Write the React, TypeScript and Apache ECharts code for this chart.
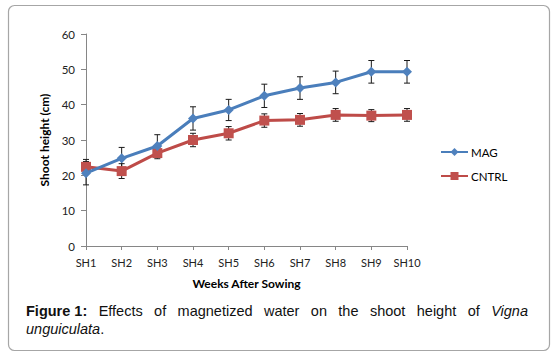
import React, { useEffect, useRef } from "react";
import * as echarts from "echarts";

const categories = ["SH1", "SH2", "SH3", "SH4", "SH5", "SH6", "SH7", "SH8", "SH9", "SH10"];
const magValues = [20.6, 24.8, 28.3, 36.1, 38.5, 42.5, 44.7, 46.3, 49.3, 49.3];
const magErrors = [3.3, 3.1, 3.2, 3.3, 3.0, 3.3, 3.2, 3.2, 3.2, 3.2];
const cntrlValues = [22.4, 21.2, 26.3, 30.0, 31.9, 35.5, 35.7, 37.1, 36.9, 37.1];
const cntrlErrors = [2.1, 2.1, 1.6, 1.9, 1.9, 1.9, 1.8, 1.8, 1.7, 1.8];
const seriesNames = ["MAG", "CNTRL"];
const yTitle = "Shoot height (cm)";
const xTitle = "Weeks After Sowing";
const captionLine1 = [
  { t: "Figure 1:", w: "bold", s: "normal" },
  { t: "Effects", w: "normal", s: "normal" },
  { t: "of", w: "normal", s: "normal" },
  { t: "magnetized", w: "normal", s: "normal" },
  { t: "water", w: "normal", s: "normal" },
  { t: "on", w: "normal", s: "normal" },
  { t: "the", w: "normal", s: "normal" },
  { t: "shoot", w: "normal", s: "normal" },
  { t: "height", w: "normal", s: "normal" },
  { t: "of", w: "normal", s: "normal" },
  { t: "Vigna", w: "normal", s: "italic" },
];
const captionLine2 = [
  { t: "unguiculata", w: "normal", s: "italic" },
  { t: ".", w: "normal", s: "normal" },
];

const FONT = "Lato, 'Open Sans', sans-serif";
const CAP_FAMILY = "'Liberation Sans', Arial, sans-serif";
const CAP_SIZE = 14.5;

function measure(text: string, weight: string, style: string) {
  const c = document.createElement("canvas").getContext("2d")!;
  c.font = `${style} ${weight} ${CAP_SIZE}px ${CAP_FAMILY}`;
  return c.measureText(text).width;
}

function errData(vals: number[], errs: number[]) {
  return vals.map((v, i) => [i, v - errs[i], v + errs[i]]);
}

function errorSeries(data: number[][]) {
  return {
    type: "custom",
    data,
    encode: { x: 0, y: [1, 2] },
    z: 1,
    silent: true,
    renderItem: (params: any, api: any) => {
      const i = api.value(0);
      const top = api.coord([i, api.value(2)]);
      const bot = api.coord([i, api.value(1)]);
      const w = 3;
      const style = { stroke: "#1a1a1a", lineWidth: 1 };
      return {
        type: "group",
        children: [
          { type: "line", shape: { x1: top[0], y1: top[1], x2: bot[0], y2: bot[1] }, style },
          { type: "line", shape: { x1: top[0] - w, y1: top[1], x2: top[0] + w, y2: top[1] }, style },
          { type: "line", shape: { x1: bot[0] - w, y1: bot[1], x2: bot[0] + w, y2: bot[1] }, style },
        ],
      };
    },
  };
}

function capText(t: any, x: number, y: number) {
  return {
    type: "text",
    x,
    y,
    style: {
      text: t.t,
      fill: "#111",
      fontSize: CAP_SIZE,
      fontFamily: CAP_FAMILY,
      fontWeight: t.w,
      fontStyle: t.s,
      verticalAlign: "middle",
      align: "left",
    },
  };
}

export default function App() {
  const ref = useRef<HTMLDivElement>(null);
  useEffect(() => {
    if (!ref.current) return;
    const chart = echarts.init(ref.current, null, { renderer: "svg" });

    const left = 26;
    const right = 528;
    const widths = captionLine1.map((w) => measure(w.t, w.w, w.s));
    const total = widths.reduce((a, b) => a + b, 0);
    const gap = (right - left - total) / (captionLine1.length - 1);
    const capEls: any[] = [];
    let x = left;
    captionLine1.forEach((w, i) => {
      capEls.push(capText(w, x, 311));
      x += widths[i] + gap;
    });
    let x2 = left;
    captionLine2.forEach((w) => {
      capEls.push(capText(w, x2, 329));
      x2 += measure(w.t, w.w, w.s);
    });

    chart.setOption({
      animation: false,
      backgroundColor: "#fff",
      grid: { left: 86, right: 153, top: 34, bottom: 109, containLabel: false },
      legend: {
        data: seriesNames,
        orient: "vertical",
        left: 440,
        top: 146,
        itemWidth: 27,
        itemHeight: 10,
        itemGap: 12,
        padding: 0,
        textStyle: { fontFamily: FONT, fontSize: 11.5, color: "#000", padding: [0, 0, 0, -2] },
      },
      xAxis: {
        type: "category",
        data: categories,
        boundaryGap: false,
        name: xTitle,
        nameLocation: "middle",
        nameGap: 31,
        nameTextStyle: { fontFamily: FONT, fontSize: 12, fontWeight: "bold", color: "#000" },
        axisLine: { lineStyle: { color: "#868686", width: 1 } },
        axisTick: { show: true, length: 4, interval: 0, lineStyle: { color: "#868686" } },
        axisLabel: { fontFamily: FONT, fontSize: 11, color: "#222", margin: 11, interval: 0 },
        splitLine: { show: false },
      },
      yAxis: {
        type: "value",
        min: 0,
        max: 60,
        interval: 10,
        name: yTitle,
        nameLocation: "middle",
        nameGap: 30,
        nameRotate: 90,
        nameTextStyle: { fontFamily: FONT, fontSize: 12, fontWeight: "bold", color: "#000" },
        axisLine: { show: true, lineStyle: { color: "#868686", width: 1 } },
        axisTick: { show: true, length: 5, lineStyle: { color: "#868686" } },
        axisLabel: { fontFamily: FONT, fontSize: 11.5, color: "#222", margin: 11 },
        splitLine: { show: false },
      },
      series: [
        errorSeries(errData(magValues, magErrors)),
        errorSeries(errData(cntrlValues, cntrlErrors)),
        {
          name: seriesNames[0],
          type: "line",
          data: magValues,
          symbol: "diamond",
          symbolSize: 10,
          z: 3,
          lineStyle: { color: "#4A7EBB", width: 3 },
          itemStyle: { color: "#4F81BD" },
        },
        {
          name: seriesNames[1],
          type: "line",
          data: cntrlValues,
          symbol: "rect",
          symbolSize: 10,
          z: 2,
          lineStyle: { color: "#BE4B48", width: 3 },
          itemStyle: { color: "#C0504D" },
        },
      ],
      graphic: [
        {
          type: "rect",
          shape: { x: 8.5, y: 5.5, width: 541, height: 345, r: 6 },
          style: { fill: "none", stroke: "#a6a6a6", lineWidth: 1.2 },
          silent: true,
        },
        ...capEls,
      ],
    });
    return () => chart.dispose();
  }, []);
  return (
    <div
      ref={ref}
      style={{ position: "fixed", left: 0, top: 0, width: 560, height: 355 }}
    />
  );
}
